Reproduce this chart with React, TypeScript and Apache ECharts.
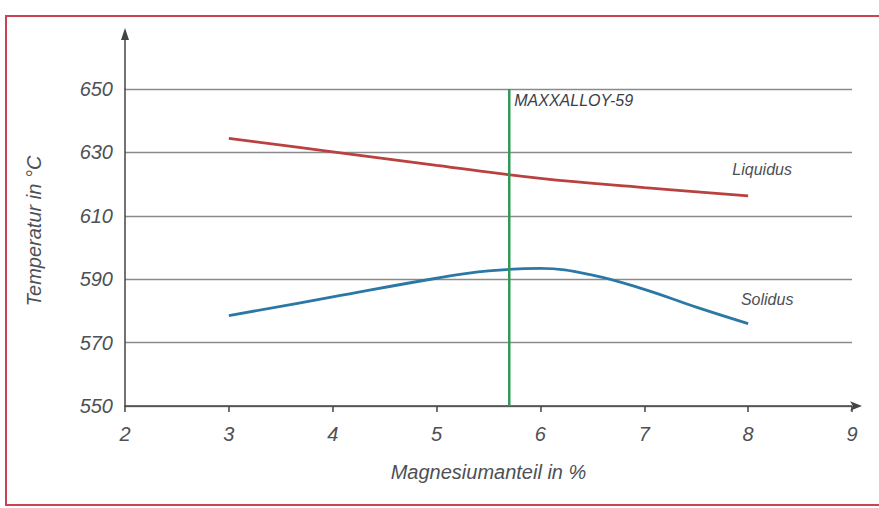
import React, { useEffect, useRef } from "react";
import * as echarts from "echarts";

const liquidusX = [3, 4, 5, 6, 7, 8];
const liquidusY = [634.4, 630.2, 625.9, 621.8, 618.9, 616.3];
const solidusX = [3, 4, 5, 5.5, 6, 6.5, 7, 7.5, 8];
const solidusY = [578.5, 584.4, 590.3, 592.6, 593.4, 591.3, 586.8, 581.2, 576];
const alloyX = 5.7;
const alloyRange = [650, 550];
const xTicks = [2, 3, 4, 5, 6, 7, 8, 9];
const yTicks = [550, 570, 590, 610, 630, 650];

const FONT = "'Liberation Sans', Arial, sans-serif";
const TXT = "#4d5055";

export default function App() {
  const ref = useRef<HTMLDivElement>(null);
  useEffect(() => {
    const chart = echarts.init(ref.current!, null, { renderer: "svg" });
    const liq = liquidusX.map((x, i) => [x, liquidusY[i]]);
    const sol = solidusX.map((x, i) => [x, solidusY[i]]);
    const lbl = (text: string, offset: number[]) => ({
      show: true, position: "top", offset, formatter: text,
      fontFamily: FONT, fontStyle: "italic", fontSize: 16, color: TXT,
    });
    const lastLiq: any = { value: liq[liq.length - 1], label: lbl("Liquidus", [14, -13]) };
    const lastSol: any = { value: sol[sol.length - 1], label: lbl("Solidus", [19, -11]) };
    chart.setOption({
      animation: false,
      backgroundColor: "#ffffff",
      grid: { left: 125, right: 27, top: 89, bottom: 102 },
      xAxis: {
        type: "value", min: xTicks[0], max: xTicks[xTicks.length - 1], interval: 1,
        axisLine: { lineStyle: { color: "#444", width: 1.5 }, symbol: ["none", "arrow"], symbolSize: [7, 12], symbolOffset: [0, 10] },
        axisTick: { show: true, length: 6, inside: false, lineStyle: { color: "#444", width: 1.5 } },
        axisLabel: {
          fontFamily: FONT, fontStyle: "italic", fontSize: 20, color: TXT, margin: 18,
        },
        splitLine: { show: false },
        name: "Magnesiumanteil in %", nameLocation: "middle", nameGap: 56,
        nameTextStyle: { fontFamily: FONT, fontStyle: "italic", fontSize: 20, color: TXT },
      },
      yAxis: {
        type: "value", min: yTicks[0], max: yTicks[yTicks.length - 1], interval: 20,
        axisLine: { show: true, lineStyle: { color: "#444", width: 1.5 } },
        axisTick: { show: false },
        axisLabel: {
          fontFamily: FONT, fontStyle: "italic", fontSize: 20, color: TXT, margin: 12,
        },
        splitLine: { show: true, lineStyle: { color: "#8a8a8a", width: 1.3 } },
      },
      graphic: [
        { type: "rect", shape: { x: 6, y: 16, width: 900, height: 489 }, style: { fill: "none", stroke: "#c94450", lineWidth: 2 }, silent: true },
        { type: "line", shape: { x1: 125, y1: 89, x2: 125, y2: 36 }, style: { stroke: "#444", lineWidth: 1.5 } },
        { type: "polygon", shape: { points: [[125, 28], [121, 40], [129, 40]] }, style: { fill: "#444" } },
        {
          type: "text", x: 34, y: 231, rotation: Math.PI / 2,
          style: { text: "Temperatur in °C", fontFamily: FONT, fontStyle: "italic", fontSize: 20, fill: TXT, align: "center", verticalAlign: "middle" },
        },
      ],
      series: [
        {
          type: "line", smooth: 0.4, symbol: "circle", symbolSize: 0.01, showSymbol: true,
          itemStyle: { color: "transparent" }, silent: true,
          data: [...liq.slice(0, -1), lastLiq],
          lineStyle: { color: "#b9413f", width: 2.8 }, z: 3,
        },
        {
          type: "line", smooth: 0.4, symbol: "circle", symbolSize: 0.01, showSymbol: true,
          itemStyle: { color: "transparent" }, silent: true,
          data: [...sol.slice(0, -1), lastSol],
          lineStyle: { color: "#2b78a6", width: 2.8 }, z: 3,
        },
        {
          type: "line", symbol: "circle", symbolSize: 0.01, showSymbol: true,
          itemStyle: { color: "transparent" }, silent: true,
          data: [
            {
              value: [alloyX, alloyRange[0]],
              label: {
                show: true, position: "right", offset: [0, 11], formatter: "MAXXALLOY-59",
                fontFamily: FONT, fontStyle: "italic", fontSize: 16, color: "#3a3d48",
              },
            },
            { value: [alloyX, alloyRange[1]] },
          ],
          lineStyle: { color: "#2e9a55", width: 2.5 }, z: 4,
        },
      ],
    });
    return () => chart.dispose();
  }, []);
  return <div ref={ref} style={{ position: "fixed", left: 0, top: 0, width: 879, height: 508 }} />;
}
